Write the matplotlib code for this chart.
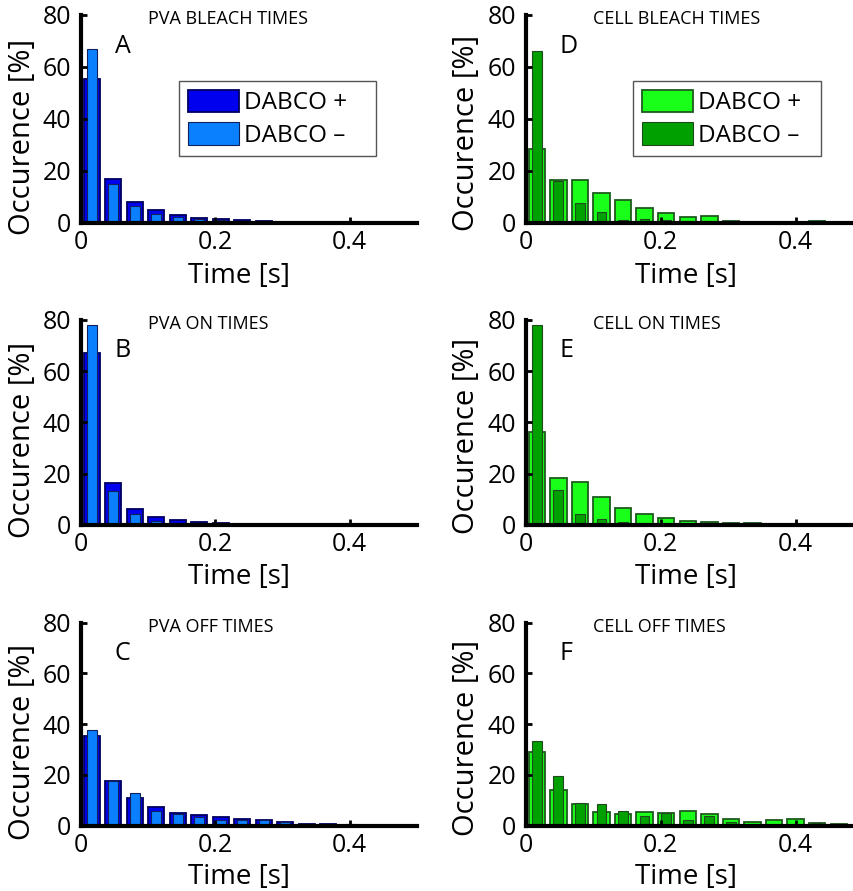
import matplotlib
matplotlib.use('Agg')
import matplotlib.pyplot as plt

plt.rcParams['font.family'] = ['Open Sans', 'DejaVu Sans']

# bin centres [s], 32 ms frames
time = [0.016, 0.048, 0.080, 0.112, 0.144, 0.176, 0.208, 0.240,
        0.272, 0.304, 0.336, 0.368, 0.400, 0.432, 0.464]

# occurence [%]  (plus = DABCO +, minus = DABCO -)
pva_bleach_plus = [55.5, 16.8, 8.1, 4.7, 3.0, 2.0, 1.4, 1.0, 0.6, 0.4, 0.3, 0.1, 0.1, 0.0, 0.0]
pva_bleach_minus = [67.0, 15.0, 6.5, 3.3, 2.3, 1.5, 1.0, 0.7, 0.4, 0.3, 0.2, 0.1, 0.0, 0.0, 0.0]

pva_on_plus = [67.0, 16.5, 6.2, 3.0, 1.8, 1.2, 0.6, 0.3, 0.1, 0.1, 0.0, 0.0, 0.0, 0.0, 0.0]
pva_on_minus = [78.0, 13.4, 4.2, 1.7, 0.9, 0.6, 0.3, 0.2, 0.1, 0.0, 0.0, 0.0, 0.0, 0.0, 0.0]

pva_off_plus = [35.3, 17.6, 10.9, 7.3, 5.2, 4.1, 3.5, 2.8, 2.4, 1.6, 0.5, 0.5, 0.4, 0.1, 0.0]
pva_off_minus = [37.8, 17.6, 12.7, 5.8, 4.7, 3.4, 2.1, 2.1, 2.1, 1.3, 0.5, 0.5, 0.6, 0.1, 0.0]

cell_bleach_plus = [28.5, 16.3, 16.3, 11.4, 8.7, 5.5, 3.8, 2.3, 2.4, 0.5, 0.4, 0.3, 0.2, 0.5, 0.0]
cell_bleach_minus = [66.0, 16.0, 7.7, 4.1, 1.2, 1.5, 0.9, 0.5, 0.5, 0.2, 0.1, 0.0, 0.0, 0.0, 0.0]

cell_on_plus = [36.4, 18.5, 16.8, 10.9, 6.5, 4.2, 2.6, 1.7, 1.3, 0.9, 0.6, 0.2, 0.0, 0.0, 0.0]
cell_on_minus = [78.0, 13.8, 4.4, 2.2, 1.0, 0.6, 0.2, 0.1, 0.1, 0.4, 0.0, 0.0, 0.0, 0.0, 0.0]

cell_off_plus = [28.9, 13.9, 8.7, 5.4, 4.7, 5.4, 4.9, 5.9, 4.7, 2.6, 1.4, 2.2, 2.6, 1.0, 0.5]
cell_off_minus = [33.2, 19.7, 9.1, 8.7, 5.8, 3.9, 5.0, 2.4, 3.7, 1.6, 0.8, 0.1, 0.4, 0.9, 0.5]

titles = ['PVA BLEACH TIMES', 'PVA ON TIMES', 'PVA OFF TIMES',
          'CELL BLEACH TIMES', 'CELL ON TIMES', 'CELL OFF TIMES']
letters = ['A', 'B', 'C', 'D', 'E', 'F']
series = [(pva_bleach_plus, pva_bleach_minus), (pva_on_plus, pva_on_minus),
          (pva_off_plus, pva_off_minus), (cell_bleach_plus, cell_bleach_minus),
          (cell_on_plus, cell_on_minus), (cell_off_plus, cell_off_minus)]

blue_plus, blue_minus = '#0000ee', '#0a80ff'
green_plus, green_minus = '#1aff1a', '#00a000'

bin_w = 0.032
W, H = 854, 891
fig = plt.figure(figsize=(W / 100, H / 100), dpi=100)

# axes boxes in pixels: left, right(x=0.5), top(y=80), bottom(y=0)
cols = [(81, 417), (526, 863)]
rows = [(15, 222.7), (320, 525), (622.7, 825.7)]

for k in range(6):
    c, r = divmod(k, 3)
    x0, x1 = cols[c]
    t0, b0 = rows[r]
    ax = fig.add_axes([x0 / W, 1 - b0 / H, (x1 - x0) / W, (b0 - t0) / H])
    plus, minus = series[k]
    if c == 0:
        cp, cm, ep, em = blue_plus, blue_minus, '#000060', '#10205a'
    else:
        cp, cm, ep, em = green_plus, green_minus, '#1e5a1e', '#1e4a1e'
    ax.bar(time, plus, width=bin_w * 0.76, color=cp, edgecolor=ep, linewidth=1.3,
           label='DABCO +')
    ax.bar(time, minus, width=bin_w * 0.45, color=cm, edgecolor=em, linewidth=0.8,
           label='DABCO \u2013')

    ax.set_xlim(0, 0.5)
    ax.set_ylim(0, 80)
    ax.set_xticks([0, 0.2, 0.4])
    ax.set_xticklabels(['0', '0.2', '0.4'])
    ax.set_yticks([0, 20, 40, 60, 80])
    for s in ['top', 'right']:
        ax.spines[s].set_visible(False)
    for s in ['left', 'bottom']:
        ax.spines[s].set_linewidth(3)
    ax.tick_params(direction='in', length=4, width=2, labelsize=18)
    ax.tick_params(axis='y', pad=7)
    ax.tick_params(axis='x', pad=5)

    ax.set_xlabel('Time [s]', fontsize=20, va='center')
    ax.xaxis.set_label_coords(0.47 if c == 0 else 0.475, -0.255)
    ax.set_ylabel('Occurence [%]', fontsize=21, va='center')
    ax.yaxis.set_label_coords(-0.174 if c == 0 else -0.178, 0.414 if c == 0 else 0.434)

    ax.text(0.1, 78.5, titles[k], fontsize=13, ha='left', va='center')
    ax.text(0.05, 68, letters[k], fontsize=18, ha='left', va='center')

    if r == 0:
        lx = 0.292 if c == 0 else 0.318
        leg = ax.legend(loc='upper left', bbox_to_anchor=(lx, 0.316, 0.586 if c == 0 else 0.557, 0.366),
                        mode='expand', fontsize=17.5,
                        handlelength=2.1, handleheight=1.05, handletextpad=0.2,
                        labelspacing=0.3, borderpad=0.35, borderaxespad=0,
                        fancybox=False, framealpha=1)
        leg.get_frame().set_edgecolor('#555555')
        leg.get_frame().set_linewidth(1.0)

fig.savefig('out.png', dpi=100)
